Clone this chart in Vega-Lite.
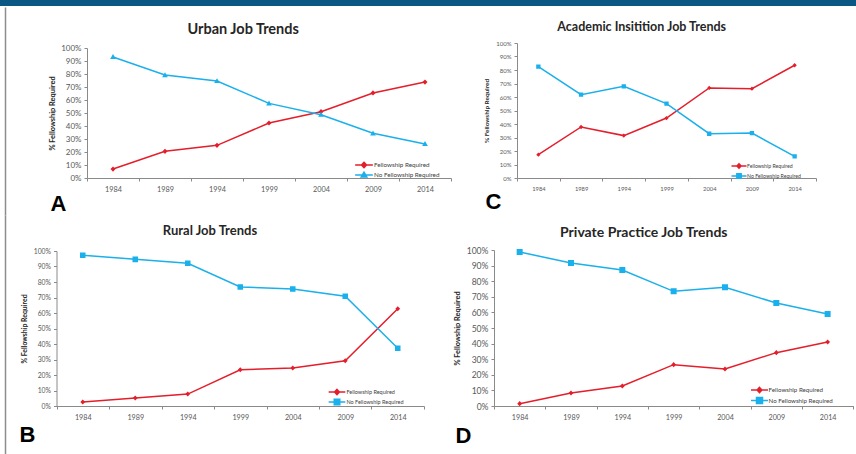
{
  "$schema": "https://vega.github.io/schema/vega-lite/v6.json",
  "padding": 0,
  "background": "white",
  "columns": 2,
  "spacing": {"row": 37, "column": 0},
  "bounds": "flush",
  "align": "each",
  "resolve": {
    "scale": {"color": "independent", "shape": "independent"},
    "legend": {"color": "independent", "shape": "independent"}
  },
  "config": {
    "font": "Lato",
    "view": {"stroke": null},
    "axis": {"labelFont": "Lato", "titleFont": "Lato", "domainColor": "#8a8a8a", "tickColor": "#8a8a8a", "labelColor": "#595959", "titleColor": "#262626", "titleFontWeight": "bold", "grid": false, "domainWidth": 1, "tickWidth": 1},
    "title": {"font": "Lato", "fontWeight": "bold", "color": "#262626"},
    "legend": {"labelFont": "Lato", "labelColor": "#404040", "padding": 0, "labelLimit": 0, "symbolSize": 36, "title": null, "orient": "none"}
  },
  "datasets": {
    "urban": [
      {"year": 1984, "series": "Fellowship Required", "pct": 6.9},
      {"year": 1989, "series": "Fellowship Required", "pct": 20.5},
      {"year": 1994, "series": "Fellowship Required", "pct": 25.1},
      {"year": 1999, "series": "Fellowship Required", "pct": 42.3},
      {"year": 2004, "series": "Fellowship Required", "pct": 51.0},
      {"year": 2009, "series": "Fellowship Required", "pct": 65.4},
      {"year": 2014, "series": "Fellowship Required", "pct": 73.8},
      {"year": 1984, "series": "No Fellowship Required", "pct": 93.1},
      {"year": 1989, "series": "No Fellowship Required", "pct": 79.2},
      {"year": 1994, "series": "No Fellowship Required", "pct": 74.6},
      {"year": 1999, "series": "No Fellowship Required", "pct": 57.4},
      {"year": 2004, "series": "No Fellowship Required", "pct": 48.7},
      {"year": 2009, "series": "No Fellowship Required", "pct": 34.4},
      {"year": 2014, "series": "No Fellowship Required", "pct": 26.2}
    ],
    "academic": [
      {"year": 1984, "series": "Fellowship Required", "pct": 17.3},
      {"year": 1989, "series": "Fellowship Required", "pct": 37.8},
      {"year": 1994, "series": "Fellowship Required", "pct": 31.4},
      {"year": 1999, "series": "Fellowship Required", "pct": 44.4},
      {"year": 2004, "series": "Fellowship Required", "pct": 66.7},
      {"year": 2009, "series": "Fellowship Required", "pct": 66.2},
      {"year": 2014, "series": "Fellowship Required", "pct": 83.5},
      {"year": 1984, "series": "No Fellowship Required", "pct": 82.5},
      {"year": 1989, "series": "No Fellowship Required", "pct": 61.7},
      {"year": 1994, "series": "No Fellowship Required", "pct": 67.9},
      {"year": 1999, "series": "No Fellowship Required", "pct": 55.1},
      {"year": 2004, "series": "No Fellowship Required", "pct": 32.8},
      {"year": 2009, "series": "No Fellowship Required", "pct": 33.3},
      {"year": 2014, "series": "No Fellowship Required", "pct": 16.0}
    ],
    "rural": [
      {"year": 1984, "series": "Fellowship Required", "pct": 2.6},
      {"year": 1989, "series": "Fellowship Required", "pct": 5.2},
      {"year": 1994, "series": "Fellowship Required", "pct": 7.7},
      {"year": 1999, "series": "Fellowship Required", "pct": 23.4},
      {"year": 2004, "series": "Fellowship Required", "pct": 24.5},
      {"year": 2009, "series": "Fellowship Required", "pct": 29.2},
      {"year": 2014, "series": "Fellowship Required", "pct": 62.7},
      {"year": 1984, "series": "No Fellowship Required", "pct": 97.2},
      {"year": 1989, "series": "No Fellowship Required", "pct": 94.6},
      {"year": 1994, "series": "No Fellowship Required", "pct": 92.1},
      {"year": 1999, "series": "No Fellowship Required", "pct": 76.8},
      {"year": 2004, "series": "No Fellowship Required", "pct": 75.5},
      {"year": 2009, "series": "No Fellowship Required", "pct": 70.8},
      {"year": 2014, "series": "No Fellowship Required", "pct": 37.3}
    ],
    "private": [
      {"year": 1984, "series": "Fellowship Required", "pct": 1.5},
      {"year": 1989, "series": "Fellowship Required", "pct": 8.3},
      {"year": 1994, "series": "Fellowship Required", "pct": 12.8},
      {"year": 1999, "series": "Fellowship Required", "pct": 26.5},
      {"year": 2004, "series": "Fellowship Required", "pct": 23.7},
      {"year": 2009, "series": "Fellowship Required", "pct": 34.2},
      {"year": 2014, "series": "Fellowship Required", "pct": 41.0},
      {"year": 1984, "series": "No Fellowship Required", "pct": 98.7},
      {"year": 1989, "series": "No Fellowship Required", "pct": 91.7},
      {"year": 1994, "series": "No Fellowship Required", "pct": 87.2},
      {"year": 1999, "series": "No Fellowship Required", "pct": 73.5},
      {"year": 2004, "series": "No Fellowship Required", "pct": 76.1},
      {"year": 2009, "series": "No Fellowship Required", "pct": 66.0},
      {"year": 2014, "series": "No Fellowship Required", "pct": 59.0}
    ]
  },
  "concat": [
    {
      "width": 451, "height": 6,
      "data": {"values": []},
      "mark": "point",
      "encoding": {},
      "view": {"fill": "#0b5784", "stroke": null}
    },
    {
      "width": 405, "height": 6,
      "data": {"values": []},
      "mark": "point",
      "encoding": {},
      "view": {"fill": "#0b5784", "stroke": null}
    },
    {
      "width": 451, "height": 135,
      "title": {"text": "Urban Job Trends", "fontSize": 14.5, "dx": 17.7, "offset": -5, "frame": "group", "baseline": "alphabetic"},
      "resolve": {"scale": {"y": "independent"}, "axis": {"y": "independent"}},
      "layer": [
        {
          "data": {"name": "urban"},
          "encoding": {
            "x": {"field": "year", "type": "quantitative",
              "scale": {"domain": [1981.5, 2016.5], "range": [87, 451], "nice": false, "zero": false},
              "axis": {"values": [1981.5, 1986.5, 1991.5, 1996.5, 2001.5, 2006.5, 2011.5, 2016.5], "labelExpr": "datum.value > 2015 ? '' : '' + (datum.value + 2.5)", "labelOffset": 26, "labelFontSize": 7.3, "tickSize": 3, "labelPadding": 4, "labelFlush": false, "labelOverlap": false,
                "title": "A", "titleFont": "Liberation Sans", "titleFontSize": 22, "titleColor": "#000000", "titleX": 50, "titleY": 32, "titleAlign": "left", "titleBaseline": "alphabetic"}},
            "y": {"field": "pct", "type": "quantitative",
              "scale": {"domain": [0, 100], "range": [135, 5], "nice": false, "zero": true},
              "axis": {"orient": "left", "values": [0, 10, 20, 30, 40, 50, 60, 70, 80, 90, 100], "labelExpr": "datum.value + '%'", "offset": -87, "tickSize": 3, "labelPadding": 3, "labelFontSize": 8, "title": "% Fellowship Required", "titleFontSize": 7.4, "titlePadding": 4}},
            "color": {"field": "series", "type": "nominal",
              "scale": {"domain": ["Fellowship Required", "No Fellowship Required"], "range": ["#e41e2b", "#1ab0ec"]},
              "legend": {"legendX": 360, "legendY": 118, "labelFontSize": 6.3, "rowPadding": -4.4, "labelOffset": 6,
                "encode": {"symbols": {"update": {
                  "shape": [{"test": "datum.value === 'Fellowship Required'", "value": "M-2.95,0H2.95M0,-0.87L0.83,0L0,0.87L-0.83,0Z"}, {"value": "M-2.95,0H2.95M-0.95,0.7L0.95,0.7L0,-0.95Z"}],
                  "stroke": [{"test": "datum.value === 'Fellowship Required'", "value": "#e41e2b"}, {"value": "#1ab0ec"}],
                  "fill": [{"test": "datum.value === 'Fellowship Required'", "value": "#e41e2b"}, {"value": "#1ab0ec"}],
                  "strokeWidth": {"value": 1.5}, "size": {"value": 36}, "opacity": {"value": 1}}}}}}
          },
          "layer": [
            {"mark": {"type": "line", "strokeWidth": 1.5}},
            {"mark": {"type": "point", "filled": true, "size": 36, "opacity": 1, "strokeWidth": 0},
             "encoding": {"shape": {"field": "series", "type": "nominal",
               "scale": {"domain": ["Fellowship Required", "No Fellowship Required"], "range": ["M-2.95,0H2.95M0,-0.87L0.83,0L0,0.87L-0.83,0Z", "M-2.95,0H2.95M-0.95,0.7L0.95,0.7L0,-0.95Z"]},
               "legend": null}}}
          ]
        },
        {
          "data": {"values": []},
          "mark": {"type": "rule"},
          "encoding": {
            "y": {"field": "v", "type": "quantitative", "scale": {"domain": [0, 1], "range": [172, -36], "nice": false, "zero": false},
              "axis": {"orient": "left", "offset": -5, "labels": false, "ticks": false, "title": null, "domainColor": "#8c8c8c", "domainWidth": 1.5, "grid": false}}
          }
        }
      ]
    },
    {
      "width": 405, "height": 135,
      "title": {"text": "Academic Insitition Job Trends", "fontSize": 12.5, "dx": -11.8, "offset": -3, "frame": "group", "baseline": "alphabetic"},
      "data": {"name": "academic"},
      "encoding": {
        "x": {"field": "year", "type": "quantitative",
          "scale": {"domain": [1981.5, 2016.5], "range": [66, 365], "nice": false, "zero": false},
          "axis": {"values": [1981.5, 1986.5, 1991.5, 1996.5, 2001.5, 2006.5, 2011.5, 2016.5], "labelExpr": "datum.value > 2015 ? '' : '' + (datum.value + 2.5)", "labelOffset": 21.4, "labelFontSize": 5.8, "tickSize": 3, "labelPadding": 4, "labelFlush": false, "labelOverlap": false,
            "title": "C", "titleFont": "Liberation Sans", "titleFontSize": 22, "titleColor": "#000000", "titleX": 34, "titleY": 30, "titleAlign": "left", "titleBaseline": "alphabetic"}},
        "y": {"field": "pct", "type": "quantitative",
          "scale": {"domain": [0, 100], "range": [135, 0], "nice": false, "zero": true},
          "axis": {"values": [0, 10, 20, 30, 40, 50, 60, 70, 80, 90, 100], "labelExpr": "datum.value + '%'", "offset": -66, "tickSize": 3, "labelPadding": 3, "labelFontSize": 6, "title": "% Fellowship Required", "titleFontSize": 6.4, "titlePadding": 6}},
        "color": {"field": "series", "type": "nominal",
          "scale": {"domain": ["Fellowship Required", "No Fellowship Required"], "range": ["#e41e2b", "#1ab0ec"]},
          "legend": {"legendX": 284, "legendY": 119, "labelFontSize": 5.2, "rowPadding": -2.4, "labelOffset": 4,
            "encode": {"symbols": {"update": {
              "shape": [{"test": "datum.value === 'Fellowship Required'", "value": "M-2.5,0H2.5M0,-0.72L0.7,0L0,0.72L-0.7,0Z"}, {"value": "M-2.5,0H2.5M-0.72,-0.72H0.72V0.72H-0.72Z"}],
              "stroke": [{"test": "datum.value === 'Fellowship Required'", "value": "#e41e2b"}, {"value": "#1ab0ec"}],
              "fill": [{"test": "datum.value === 'Fellowship Required'", "value": "#e41e2b"}, {"value": "#1ab0ec"}],
              "strokeWidth": {"value": 1.5}, "size": {"value": 36}, "opacity": {"value": 1}}}}}}
      },
      "layer": [
        {"mark": {"type": "line", "strokeWidth": 1.5}},
        {"mark": {"type": "point", "filled": true, "size": 36, "opacity": 1, "strokeWidth": 0},
         "encoding": {"shape": {"field": "series", "type": "nominal",
           "scale": {"domain": ["Fellowship Required", "No Fellowship Required"], "range": ["M-2.5,0H2.5M0,-0.72L0.7,0L0,0.72L-0.7,0Z", "M-2.5,0H2.5M-0.72,-0.72H0.72V0.72H-0.72Z"]},
           "legend": null}}}
      ]
    },
    {
      "width": 451, "height": 191,
      "title": {"text": "Rural Job Trends", "fontSize": 13, "dx": -15.5, "offset": -33, "frame": "group", "baseline": "alphabetic"},
      "resolve": {"scale": {"y": "independent"}, "axis": {"y": "independent"}},
      "layer": [
        {
          "data": {"name": "rural"},
          "encoding": {
            "x": {"field": "year", "type": "quantitative",
              "scale": {"domain": [1981.5, 2016.5], "range": [56.5, 424], "nice": false, "zero": false},
              "axis": {"values": [1981.5, 1986.5, 1991.5, 1996.5, 2001.5, 2006.5, 2011.5, 2016.5], "labelExpr": "datum.value > 2015 ? '' : '' + (datum.value + 2.5)", "labelOffset": 26.25, "labelFontSize": 7.2, "tickSize": 3, "labelPadding": 4.5, "labelFlush": false, "labelOverlap": false,
                "title": "B", "titleFont": "Liberation Sans", "titleFontSize": 22, "titleColor": "#000000", "titleX": 19, "titleY": 35, "titleAlign": "left", "titleBaseline": "alphabetic"}},
            "y": {"field": "pct", "type": "quantitative",
              "scale": {"domain": [0, 100], "range": [191, 36], "nice": false, "zero": true},
              "axis": {"orient": "left", "values": [0, 10, 20, 30, 40, 50, 60, 70, 80, 90, 100], "labelExpr": "datum.value + '%'", "offset": -56.5, "tickSize": 3, "labelPadding": 3, "labelFontSize": 6.8, "title": "% Fellowship Required", "titleFontSize": 6.9, "titlePadding": 6}},
            "color": {"field": "series", "type": "nominal",
              "scale": {"domain": ["Fellowship Required", "No Fellowship Required"], "range": ["#e41e2b", "#1ab0ec"]},
              "legend": {"legendX": 333, "legendY": 173, "labelFontSize": 5.5, "rowPadding": -4.8, "labelOffset": 5.4,
                "encode": {"symbols": {"update": {
                  "shape": [{"test": "datum.value === 'Fellowship Required'", "value": "M-2.78,0H2.78M0,-0.85L0.8,0L0,0.85L-0.8,0Z"}, {"value": "M-2.78,0H2.78M-0.92,-0.92H0.92V0.92H-0.92Z"}],
                  "stroke": [{"test": "datum.value === 'Fellowship Required'", "value": "#e41e2b"}, {"value": "#1ab0ec"}],
                  "fill": [{"test": "datum.value === 'Fellowship Required'", "value": "#e41e2b"}, {"value": "#1ab0ec"}],
                  "strokeWidth": {"value": 1.5}, "size": {"value": 36}, "opacity": {"value": 1}}}}}}
          },
          "layer": [
            {"mark": {"type": "line", "strokeWidth": 1.5}},
            {"mark": {"type": "point", "filled": true, "size": 36, "opacity": 1, "strokeWidth": 0},
             "encoding": {"shape": {"field": "series", "type": "nominal",
               "scale": {"domain": ["Fellowship Required", "No Fellowship Required"], "range": ["M-2.78,0H2.78M0,-0.85L0.8,0L0,0.85L-0.8,0Z", "M-2.78,0H2.78M-0.92,-0.92H0.92V0.92H-0.92Z"]},
               "legend": null}}}
          ]
        },
        {
          "data": {"values": []},
          "mark": {"type": "rule"},
          "encoding": {
            "y": {"field": "v", "type": "quantitative", "scale": {"domain": [0, 1], "range": [239, 0], "nice": false, "zero": false},
              "axis": {"orient": "left", "offset": -5, "labels": false, "ticks": false, "title": null, "domainColor": "#8c8c8c", "domainWidth": 1.5, "grid": false}}
          }
        }
      ]
    },
    {
      "width": 405, "height": 191,
      "title": {"text": "Private Practice Job Trends", "fontSize": 14, "dx": -9.7, "offset": -35.5, "frame": "group", "baseline": "alphabetic"},
      "data": {"name": "private"},
      "encoding": {
        "x": {"field": "year", "type": "quantitative",
          "scale": {"domain": [1981.5, 2016.5], "range": [43, 402.3], "nice": false, "zero": false},
          "axis": {"values": [1981.5, 1986.5, 1991.5, 1996.5, 2001.5, 2006.5, 2011.5, 2016.5], "labelExpr": "datum.value > 2015 ? '' : '' + (datum.value + 2.5)", "labelOffset": 25.7, "labelFontSize": 7.2, "tickSize": 3, "labelPadding": 4.5, "labelFlush": false, "labelOverlap": false,
            "title": "D", "titleFont": "Liberation Sans", "titleFontSize": 22, "titleColor": "#000000", "titleX": 4, "titleY": 36, "titleAlign": "left", "titleBaseline": "alphabetic"}},
        "y": {"field": "pct", "type": "quantitative",
          "scale": {"domain": [0, 100], "range": [191, 35], "nice": false, "zero": true},
          "axis": {"values": [0, 10, 20, 30, 40, 50, 60, 70, 80, 90, 100], "labelExpr": "datum.value + '%'", "offset": -43, "tickSize": 3, "labelPadding": 3, "labelFontSize": 8.6, "title": "% Fellowship Required", "titleFontSize": 7.4, "titlePadding": 5}},
        "color": {"field": "series", "type": "nominal",
          "scale": {"domain": ["Fellowship Required", "No Fellowship Required"], "range": ["#e41e2b", "#1ab0ec"]},
          "legend": {"legendX": 304.5, "legendY": 171, "labelFontSize": 6.2, "rowPadding": -1.4, "labelOffset": 5,
            "encode": {"symbols": {"update": {
              "shape": [{"test": "datum.value === 'Fellowship Required'", "value": "M-2.83,0H2.83M0,-0.85L0.8,0L0,0.85L-0.8,0Z"}, {"value": "M-2.83,0H2.83M-1,-1H1V1H-1Z"}],
              "stroke": [{"test": "datum.value === 'Fellowship Required'", "value": "#e41e2b"}, {"value": "#1ab0ec"}],
              "fill": [{"test": "datum.value === 'Fellowship Required'", "value": "#e41e2b"}, {"value": "#1ab0ec"}],
              "strokeWidth": {"value": 1.5}, "size": {"value": 36}, "opacity": {"value": 1}}}}}}
      },
      "layer": [
        {"mark": {"type": "line", "strokeWidth": 1.5}},
        {"mark": {"type": "point", "filled": true, "size": 36, "opacity": 1, "strokeWidth": 0},
         "encoding": {"shape": {"field": "series", "type": "nominal",
           "scale": {"domain": ["Fellowship Required", "No Fellowship Required"], "range": ["M-2.83,0H2.83M0,-0.85L0.8,0L0,0.85L-0.8,0Z", "M-2.83,0H2.83M-1,-1H1V1H-1Z"]},
           "legend": null}}}
      ]
    }
  ]
}
